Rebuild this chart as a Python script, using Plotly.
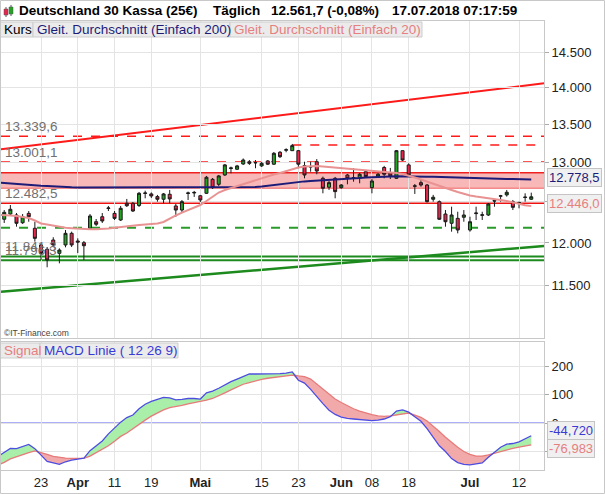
import math
import plotly.graph_objects as go

# ---------------- data ----------------
dates = [
    "2018-03-14", "2018-03-15", "2018-03-16", "2018-03-19", "2018-03-20", "2018-03-21", "2018-03-22",
    "2018-03-23", "2018-03-26", "2018-03-27", "2018-03-28", "2018-03-29", "2018-03-30",
    "2018-04-03", "2018-04-04", "2018-04-05", "2018-04-06", "2018-04-09", "2018-04-10", "2018-04-11",
    "2018-04-12", "2018-04-13", "2018-04-16", "2018-04-17", "2018-04-18", "2018-04-19", "2018-04-20",
    "2018-04-23", "2018-04-24", "2018-04-25", "2018-04-26", "2018-04-27", "2018-04-30",
    "2018-05-01", "2018-05-02", "2018-05-03", "2018-05-04", "2018-05-07", "2018-05-08", "2018-05-09",
    "2018-05-10", "2018-05-11", "2018-05-14", "2018-05-15", "2018-05-16", "2018-05-17", "2018-05-18",
    "2018-05-21", "2018-05-22", "2018-05-23", "2018-05-24", "2018-05-25", "2018-05-28", "2018-05-29",
    "2018-05-30", "2018-05-31",
    "2018-06-01", "2018-06-04", "2018-06-05", "2018-06-06", "2018-06-07", "2018-06-08", "2018-06-11",
    "2018-06-12", "2018-06-13", "2018-06-14", "2018-06-15", "2018-06-18", "2018-06-19", "2018-06-20",
    "2018-06-21", "2018-06-22", "2018-06-25", "2018-06-26", "2018-06-27", "2018-06-28", "2018-06-29",
    "2018-07-02", "2018-07-03", "2018-07-04", "2018-07-05", "2018-07-06", "2018-07-09", "2018-07-10",
    "2018-07-11", "2018-07-12", "2018-07-13", "2018-07-16",
]
candle_dates = dates[1:]

open_ = [12285, 12349, 12337, 12243, 12357, 12176, 11976, 11925, 12035, 11877, 11976, 12115,
         12023, 12003, 12176, 12255, 12316, 12417, 12357, 12276, 12481, 12481, 12454, 12603,
         12597, 12564, 12531, 12593, 12448, 12398, 12603, 12609, 12575, 12605, 12781, 12718,
         12836, 12919, 12909, 12977, 13006, 12996, 12952, 13016, 12974, 13128, 13155, 13149,
         13149, 12956, 12945, 13006, 12794, 12681, 12794, 12676, 12836, 12804, 12802, 12878,
         12676, 12815, 12932, 12862, 12794, 13149, 12965, 12699, 12739, 12709, 12531, 12501,
         12349, 12236, 12296, 12309, 12155, 12354, 12333, 12337, 12516, 12569, 12585, 12501,
         12491, 12553, 12531]
high = [12398, 12460, 12361, 12349, 12386, 12255, 11995, 11952, 12068, 11936, 12155, 12135,
        12055, 12023, 12349, 12288, 12361, 12448, 12386, 12448, 12535, 12497, 12622, 12638,
        12616, 12585, 12609, 12647, 12472, 12522, 12626, 12635, 12585, 12824, 12798, 12836,
        12977, 12943, 12965, 13048, 13028, 13028, 13003, 13028, 13132, 13145, 13180, 13237,
        13158, 13006, 13006, 13040, 12815, 12760, 12811, 12722, 12849, 12922, 12862, 12900,
        12785, 12862, 12952, 12926, 13158, 13151, 12985, 12722, 12773, 12722, 12585, 12516,
        12398, 12439, 12377, 12398, 12316, 12439, 12377, 12485, 12522, 12585, 12647, 12522,
        12501, 12605, 12613]
low = [12240, 12325, 12195, 12228, 12255, 12015, 11799, 11714, 11952, 11760, 11948, 11952,
       11880, 11799, 12155, 12203, 12240, 12386, 12276, 12264, 12435, 12374, 12435, 12543,
       12547, 12501, 12481, 12481, 12316, 12365, 12522, 12560, 12497, 12597, 12660, 12697,
       12824, 12858, 12900, 12965, 12965, 12922, 12939, 12965, 12965, 13054, 13128, 13145,
       12922, 12794, 12878, 12845, 12605, 12647, 12543, 12660, 12718, 12751, 12731, 12798,
       12605, 12798, 12794, 12785, 12785, 13016, 12815, 12597, 12688, 12491, 12501, 12276,
       12195, 12135, 12115, 12255, 12135, 12276, 12276, 12325, 12439, 12501, 12564, 12398,
       12419, 12501, 12522]
close = [12370, 12407, 12236, 12316, 12316, 12055, 11877, 11799, 11976, 11916, 12115, 11976,
         12011, 11967, 12325, 12224, 12264, 12423, 12296, 12419, 12451, 12386, 12605, 12609,
         12572, 12531, 12597, 12535, 12398, 12501, 12609, 12616, 12522, 12807, 12676, 12824,
         12965, 12926, 12952, 13028, 12985, 12992, 12985, 12974, 13115, 13071, 13161, 13215,
         12974, 12836, 12939, 12887, 12668, 12739, 12626, 12709, 12794, 12798, 12845, 12815,
         12760, 12845, 12845, 12824, 13149, 13028, 12836, 12694, 12709, 12501, 12556, 12285,
         12255, 12337, 12155, 12337, 12255, 12361, 12339, 12472, 12509, 12574, 12618, 12431,
         12485, 12557, 12561.7]

ma20 = [12337, 12337, 12331, 12325, 12313, 12300, 12270, 12234, 12222, 12206, 12189, 12182, 12176,
        12170, 12166, 12163, 12165, 12167, 12173, 12182, 12188, 12197, 12206, 12215, 12222, 12228,
        12234, 12252, 12294, 12331, 12367, 12398, 12429, 12460, 12509, 12565, 12615, 12647, 12672,
        12697, 12722, 12747, 12772, 12798, 12824, 12843, 12862, 12887, 12913, 12932, 12945, 12951,
        12951, 12945, 12938, 12932, 12925, 12919, 12913, 12906, 12900, 12891, 12883, 12874, 12868,
        12862, 12849, 12830, 12804, 12779, 12751, 12722, 12697, 12672, 12647, 12622, 12597, 12578,
        12565, 12556, 12544, 12534, 12522, 12509, 12491, 12472, 12456, 12446.0]
ma200 = [12741, 12734, 12728, 12722, 12715, 12709, 12705, 12700, 12697, 12691, 12688, 12684, 12681,
         12679, 12679, 12679, 12679, 12679, 12679, 12679, 12679, 12679, 12679, 12679, 12679, 12679,
         12679, 12679, 12679, 12679, 12679, 12679, 12679, 12678, 12678, 12678, 12678, 12678, 12678,
         12678, 12678, 12680, 12684, 12690, 12699, 12709, 12722, 12734, 12744, 12751, 12755, 12760,
         12764, 12767, 12771, 12775, 12780, 12785, 12791, 12798, 12805, 12810, 12813, 12815, 12818,
         12819, 12820, 12819, 12818, 12817, 12815, 12813, 12810, 12808, 12805, 12803, 12800, 12798,
         12796, 12794, 12791, 12790, 12788, 12785, 12784, 12781, 12780, 12778.5]

macd = [-117, -102, -89, -90, -82, -75, -90, -112, -135, -140, -145,
        -136, -130, -127, -123, -97, -80, -63, -38, -17, 3,
        19, 28, 50, 66, 76, 84, 90, 88, 81, 83,
        86, 86, 84, 106, 112, 122, 135, 145, 154, 163,
        172, 172, 172, 171, 172, 173, 175, 179, 150, 140,
        118, 92, 68, 45, 30, 21, 16, 14, 12, 11,
        8, 10, 14, 22, 42, 46, 38, 22, 6, -20,
        -50, -80, -100, -125, -139, -145, -147, -144, -140, -120,
        -103, -85, -74, -72, -66, -55, -44.72]
signal = [-147, -138, -126, -118, -110, -104, -98, -103, -110, -117, -121,
          -123, -124, -124, -124, -116, -104, -93, -80, -64, -47,
          -35, -19, -4, 10, 24, 35, 46, 54, 57, 62,
          67, 71, 74, 80, 86, 95, 106, 116, 126, 136,
          142, 148, 153, 157, 160, 163, 165, 168, 165, 163,
          154, 137, 118, 100, 84, 72, 60, 50, 42, 35,
          29, 25, 23, 25, 28, 32, 35, 28, 20, 7,
          -10, -30, -50, -68, -85, -100, -110, -116, -116, -112,
          -106, -100, -94, -89, -85, -81, -76.98]

# horizontal levels
red_dashed_levels = [13339.6, 13001.1]
red_dashed_from_may22 = 13224
red_solid_level = 12482.5
band_low, band_high = 12669, 12866
green_dashed_level = 12183
green_solid_levels = [11841.3, 11796.3]
level_labels = ["13.339,6", "13.001,1", "12.482,5", "11.841,3", "11.796,3"]
# sloped trend lines (value at left edge, value at right edge)
red_trend = [13167, 14057]
green_trend = [11434, 11964]

tick_dates = ["2018-03-23", "2018-04-03", "2018-04-11", "2018-04-19", "2018-05-01", "2018-05-15",
              "2018-05-23", "2018-06-01", "2018-06-08", "2018-06-18", "2018-07-02", "2018-07-12"]
tick_labels = ["23", "<b>Apr</b>", "11", "19", "<b>Mai</b>", "15", "23", "<b>Jun</b>", "08", "18",
               "<b>Jul</b>", "12"]
price_ticks = [11500, 12000, 12500, 13000, 13500, 14000, 14500]
price_tick_labels = ["11.500", "12.000", "12.500", "13.000", "13.500", "14.000", "14.500"]
macd_ticks = [-100, 0, 100, 200]
macd_tick_labels = ["", "0", "100", "200"]

# ---------------- layout helpers (pixel -> paper) ----------------
W, H = 605, 494
ML, MR, MT, MB = 1, 61, 21, 24
PW, PH = W - ML - MR, H - MT - MB


def pxx(x):
    return (x - ML) / PW


def pxy(y):
    return (H - MB - y) / PH


FONT = "Liberation Sans, Arial, sans-serif"
NAVY = "#1c1c78"
SALMON = "#e67f7f"

fig = go.Figure()

# moving averages (main panel)
fig.add_trace(go.Scatter(x=dates, y=ma200, mode="lines", line=dict(color=NAVY, width=2),
                         xaxis="x2", yaxis="y", hoverinfo="skip", showlegend=False))
fig.add_trace(go.Scatter(x=dates, y=ma20, mode="lines", line=dict(color="#e99292", width=2),
                         xaxis="x2", yaxis="y", hoverinfo="skip", showlegend=False))
fig.add_trace(go.Candlestick(
    x=candle_dates, open=open_, high=high, low=low, close=close,
    xaxis="x2", yaxis="y", whiskerwidth=0,
    increasing=dict(line=dict(color="#1a1a1a", width=1), fillcolor="#22a322"),
    decreasing=dict(line=dict(color="#1a1a1a", width=1), fillcolor="#e8264c"),
    hoverinfo="skip", showlegend=False))

# MACD panel fills
upper = [max(m, s) for m, s in zip(macd, signal)]
lower = [min(m, s) for m, s in zip(macd, signal)]
fig.add_trace(go.Scatter(x=dates, y=signal, mode="lines", line=dict(width=0), xaxis="x", yaxis="y2",
                         hoverinfo="skip", showlegend=False))
fig.add_trace(go.Scatter(x=dates, y=upper, mode="lines", line=dict(width=0), fill="tonexty",
                         fillcolor="#a9efa9", xaxis="x", yaxis="y2", hoverinfo="skip", showlegend=False))
fig.add_trace(go.Scatter(x=dates, y=signal, mode="lines", line=dict(width=0), xaxis="x", yaxis="y2",
                         hoverinfo="skip", showlegend=False))
fig.add_trace(go.Scatter(x=dates, y=lower, mode="lines", line=dict(width=0), fill="tonexty",
                         fillcolor="#f2a9a9", xaxis="x", yaxis="y2", hoverinfo="skip", showlegend=False))
fig.add_trace(go.Scatter(x=dates, y=signal, mode="lines", line=dict(color="#e77b7b", width=1.3),
                         xaxis="x", yaxis="y2", hoverinfo="skip", showlegend=False))
fig.add_trace(go.Scatter(x=dates, y=macd, mode="lines", line=dict(color="#4d4de0", width=1.3),
                         xaxis="x", yaxis="y2", hoverinfo="skip", showlegend=False))

shapes = []
# pink resistance band
shapes.append(dict(type="rect", xref="paper", yref="y", x0=0, x1=1, y0=band_low, y1=band_high,
                   fillcolor="rgba(247,160,160,0.75)", line=dict(width=0), layer="between"))
shapes.append(dict(type="line", xref="paper", yref="y", x0=0, x1=1, y0=band_high, y1=band_high,
                   line=dict(color="#f02020", width=1.5), layer="between"))
shapes.append(dict(type="line", xref="paper", yref="y", x0=0, x1=1, y0=band_low, y1=band_low,
                   line=dict(color="#f06060", width=1), layer="between"))
for lv in red_dashed_levels:
    shapes.append(dict(type="line", xref="paper", yref="y", x0=0, x1=1, y0=lv, y1=lv,
                       line=dict(color="#ff1a1a", width=1.5, dash="dash"), layer="between"))
shapes.append(dict(type="line", xref="x2", yref="y", x0="2018-05-22", x1=89.08,
                   y0=red_dashed_from_may22, y1=red_dashed_from_may22,
                   line=dict(color="#ff1a1a", width=1.5, dash="dash"), layer="between"))
shapes.append(dict(type="line", xref="paper", yref="y", x0=0, x1=1, y0=red_solid_level,
                   y1=red_solid_level, line=dict(color="#ee1111", width=1.5), layer="between"))
shapes.append(dict(type="line", xref="paper", yref="y", x0=0, x1=1, y0=green_dashed_level,
                   y1=green_dashed_level, line=dict(color="#2a9a2a", width=2, dash="dash"),
                   layer="between"))
for lv in green_solid_levels:
    shapes.append(dict(type="line", xref="paper", yref="y", x0=0, x1=1, y0=lv, y1=lv,
                       line=dict(color="#1d8a1d", width=2), layer="between"))
shapes.append(dict(type="line", xref="paper", yref="y", x0=0, x1=1, y0=red_trend[0],
                   y1=red_trend[1], line=dict(color="#ff1a1a", width=2), layer="between"))
shapes.append(dict(type="line", xref="paper", yref="y", x0=0, x1=1, y0=green_trend[0],
                   y1=green_trend[1], line=dict(color="#1d8a1d", width=2.5), layer="between"))
# MACD zero line
shapes.append(dict(type="line", xref="paper", yref="y2", x0=0, x1=1, y0=0, y1=0,
                   line=dict(color="#5a5af0", width=1), layer="between"))

# legend boxes
def box(x0, x1, y0, y1):
    return dict(type="rect", xref="paper", yref="paper", x0=pxx(x0), x1=pxx(x1), y0=pxy(y1),
                y1=pxy(y0), fillcolor="#ebebeb", line=dict(color="#cdcdcd", width=1), layer="above")


shapes += [box(0, 33, 22, 37), box(33, 230, 22, 37), box(230, 422, 22, 37),
           box(0, 40, 343, 358), box(40, 178, 343, 358)]
# header icon
shapes.append(dict(type="line", xref="paper", yref="paper", x0=pxx(6), x1=pxx(6), y0=pxy(17),
                   y1=pxy(7), line=dict(color="#555", width=1)))
shapes.append(dict(type="rect", xref="paper", yref="paper", x0=pxx(4), x1=pxx(8), y0=pxy(15),
                   y1=pxy(9), fillcolor="#e8264c", line=dict(color="#555", width=0.5)))
shapes.append(dict(type="line", xref="paper", yref="paper", x0=pxx(11), x1=pxx(11), y0=pxy(16),
                   y1=pxy(5), line=dict(color="#555", width=1)))
shapes.append(dict(type="rect", xref="paper", yref="paper", x0=pxx(9), x1=pxx(13), y0=pxy(14),
                   y1=pxy(7), fillcolor="#22a322", line=dict(color="#555", width=0.5)))
# outer frame
shapes.append(dict(type="rect", xref="paper", yref="paper", x0=pxx(0.5), x1=pxx(604.5),
                   y0=pxy(493.5), y1=pxy(0.5), line=dict(color="#c8c8c8", width=1)))

ann = []


def text(x, y, s, size=13.5, color="#000", bold=False, xanchor="left"):
    ann.append(dict(xref="paper", yref="paper", x=pxx(x), y=pxy(y), text=f"<b>{s}</b>" if bold else s,
                    showarrow=False, xanchor=xanchor, yanchor="middle",
                    font=dict(family=FONT, size=size, color=color)))


text(17, 11, "Deutschland 30 Kassa (25€)", bold=True)
text(211, 11, "Täglich", bold=True)
text(269, 11, "12.561,7 (-0,08%)", bold=True)
text(390, 11, "17.07.2018 07:17:59", bold=True)
text(2, 30, "Kurs", size=13.5)
text(35, 30, "Gleit. Durchschnitt (Einfach 200)", size=13.5, color=NAVY)
text(232, 30, "Gleit. Durchschnitt (Einfach 20)", size=13.5, color=SALMON)
text(2, 350, "Signal", size=13.5, color=SALMON)
text(42, 350, "MACD Linie ( 12 26 9)", size=13.5, color="#3a3ad6")
text(2, 333, "©IT-Finance.com", size=8.5, color="#444")

for lv, lab in zip(red_dashed_levels + [red_solid_level] + green_solid_levels,
                   level_labels[:2] + [level_labels[2]] + level_labels[3:]):
    ann.append(dict(xref="paper", yref="y", x=pxx(3), y=math.log10(lv), text=lab, showarrow=False,
                    xanchor="left", yanchor="bottom", yshift=0,
                    font=dict(family=FONT, size=13.5, color="#707070")))

# value tags
ann.append(dict(xref="paper", yref="y", x=pxx(547), y=math.log10(ma200[-1]), text="12.778,5",
                showarrow=False, xanchor="left", yanchor="middle", yshift=2,
                font=dict(family=FONT, size=13, color=NAVY), bgcolor="#f0f0f0",
                bordercolor="#c4c4c4", borderwidth=1, borderpad=1))
ann.append(dict(xref="paper", yref="y", x=pxx(547), y=math.log10(ma20[-1]), text="12.446,0",
                showarrow=False, xanchor="left", yanchor="middle", yshift=3,
                font=dict(family=FONT, size=13, color=SALMON), bgcolor="#f0f0f0",
                bordercolor="#c4c4c4", borderwidth=1, borderpad=1))
ann.append(dict(xref="paper", yref="y2", x=pxx(547), y=macd[-1], text="-44,720",
                showarrow=False, xanchor="left", yanchor="middle", yshift=5,
                font=dict(family=FONT, size=13, color="#3a3ad6"), bgcolor="#f0f0f0",
                bordercolor="#c4c4c4", borderwidth=1, borderpad=1))
ann.append(dict(xref="paper", yref="y2", x=pxx(547), y=signal[-1], text="-76,983",
                showarrow=False, xanchor="left", yanchor="middle", yshift=-4,
                font=dict(family=FONT, size=13, color=SALMON), bgcolor="#f0f0f0",
                bordercolor="#c4c4c4", borderwidth=1, borderpad=1))

GRID = "#e4e4e4"
LINE = "#c8c8c8"
xcommon = dict(type="category", categoryorder="array", categoryarray=dates,
               range=[0.4726, 89.08], tickvals=tick_dates, showgrid=True, gridcolor=GRID,
               showline=True, linecolor=LINE, mirror=True, ticks="", zeroline=False,
               rangeslider=dict(visible=False), fixedrange=True)

fig.update_layout(
    width=W, height=H, margin=dict(l=ML, r=MR, t=MT, b=MB),
    paper_bgcolor="white", plot_bgcolor="white", showlegend=False,
    font=dict(family=FONT, size=13, color="#222"),
    xaxis=dict(domain=[0, 1], anchor="y2", ticktext=tick_labels,
               tickfont=dict(family=FONT, size=13, color="#222"), **xcommon),
    xaxis2=dict(domain=[0, 1], anchor="y", matches="x", showticklabels=False, **xcommon),
    yaxis=dict(domain=[pxy(338), 1], anchor="x2", type="log", range=[4.038267, 4.17471],
               side="right", tickvals=price_ticks, ticktext=price_tick_labels, showgrid=True,
               gridcolor=GRID, ticks="outside", ticklen=4, tickcolor="#aaa", showline=True,
               linecolor=LINE, mirror=True, tickfont=dict(family=FONT, size=13, color="#222"),
               fixedrange=True),
    yaxis2=dict(domain=[0, pxy(342)], anchor="x", range=[-164.9, 284.2], side="right",
                tickvals=macd_ticks, ticktext=macd_tick_labels, showgrid=True, gridcolor=GRID,
                ticks="outside", ticklen=4, tickcolor="#aaa", showline=True, linecolor=LINE,
                mirror=True, zeroline=False, tickfont=dict(family=FONT, size=13, color="#222"),
                fixedrange=True),
    shapes=shapes, annotations=ann,
)

fig.write_html("out.html", config={"displayModeBar": False},
               post_script="document.body.style.margin='0px';document.body.style.overflow='hidden';")
